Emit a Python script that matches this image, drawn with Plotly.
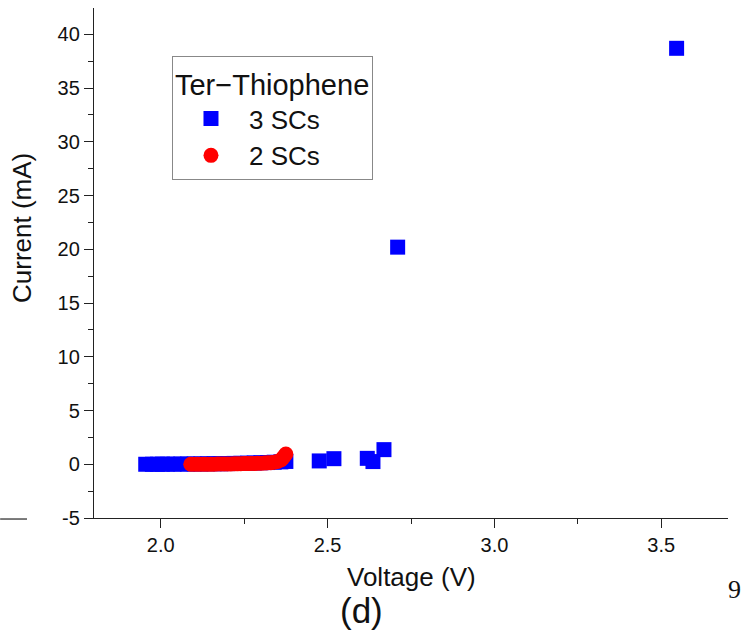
import plotly.graph_objects as go

# 3 SCs (blue squares)
v3 = [1.955, 1.975, 1.99, 2.005, 2.02, 2.04, 2.06, 2.08, 2.10, 2.12, 2.14, 2.16, 2.18,
      2.20, 2.22, 2.24, 2.26, 2.28, 2.30, 2.32, 2.34, 2.36, 2.375,
      2.475, 2.519, 2.619, 2.636, 2.669, 2.71, 3.546]
i3 = [0.00, 0.00, 0.00, 0.01, 0.01, 0.01, 0.02, 0.02, 0.03, 0.03, 0.04, 0.05, 0.05,
      0.06, 0.08, 0.09, 0.10, 0.12, 0.14, 0.16, 0.19, 0.22, 0.26,
      0.31, 0.52, 0.55, 0.25, 1.36, 20.2, 38.7]

# 2 SCs (red circles)
v2 = [2.09, 2.10, 2.11, 2.12, 2.13, 2.14, 2.15, 2.16, 2.17, 2.18, 2.19, 2.20, 2.21,
      2.22, 2.23, 2.24, 2.25, 2.26, 2.27, 2.28, 2.29, 2.30, 2.31, 2.32, 2.33, 2.34,
      2.35, 2.36, 2.365, 2.37, 2.375]
i2 = [0.00, 0.00, 0.00, 0.00, 0.01, 0.01, 0.01, 0.01, 0.02, 0.02, 0.02, 0.03, 0.03,
      0.04, 0.04, 0.05, 0.06, 0.06, 0.07, 0.08, 0.09, 0.10, 0.11, 0.13, 0.15, 0.18,
      0.25, 0.40, 0.55, 0.75, 0.95]

x_ticks = [2.0, 2.5, 3.0, 3.5]
y_ticks = [-5, 0, 5, 10, 15, 20, 25, 30, 35, 40]

FONT = "Liberation Sans, Arial, sans-serif"

fig = go.Figure()
fig.add_trace(go.Scatter(x=v3, y=i3, mode="markers", name="3 SCs",
                         marker=dict(symbol="square", size=15, color="#0000FF",
                                     line=dict(width=0))))
fig.add_trace(go.Scatter(x=v2, y=i2, mode="markers", name="2 SCs",
                         marker=dict(symbol="circle", size=15, color="#FF0000",
                                     line=dict(width=0))))

axis_common = dict(showline=True, linecolor="#222", linewidth=1.3, showgrid=False,
                   zeroline=False, ticks="outside", ticklen=9, tickwidth=1.3,
                   tickcolor="#222", tickfont=dict(family=FONT, size=20, color="#111"))

fig.update_xaxes(range=[1.8, 3.7], tickvals=x_ticks, ticktext=[f"{t:.1f}" for t in x_ticks],
                 minor=dict(dtick=0.25, tick0=0, ticks="outside", ticklen=5,
                            tickwidth=1.3, tickcolor="#222"),
                 **axis_common)
fig.update_yaxes(range=[-5, 42.45], tickvals=y_ticks, ticktext=[str(t) for t in y_ticks],
                 minor=dict(dtick=2.5, tick0=0, ticks="outside", ticklen=5,
                            tickwidth=1.3, tickcolor="#222"),
                 **axis_common)

fig.update_layout(
    width=741, height=631,
    margin=dict(l=94, r=13, t=8, b=113),
    paper_bgcolor="white", plot_bgcolor="white",
    font=dict(family=FONT, color="#111"),
    showlegend=True,
    legend=dict(x=0.123, y=0.905, xanchor="left", yanchor="top",
                bordercolor="#888", borderwidth=1, bgcolor="white",
                font=dict(family=FONT, size=26, color="#111"),
                title=dict(text="Ter\u2212Thiophene", font=dict(family=FONT, size=29, color="#111")),
                itemwidth=66, tracegroupgap=0),
    annotations=[
        dict(text="Voltage (V)", xref="paper", yref="paper", x=0.5, y=-0.1157,
             xanchor="center", yanchor="middle", showarrow=False,
             font=dict(family=FONT, size=26, color="#111")),
        dict(text="Current (mA)", xref="paper", yref="paper", x=-0.1136, y=0.5686,
             xanchor="center", yanchor="middle", showarrow=False, textangle=-90,
             font=dict(family=FONT, size=26, color="#111")),
        dict(text="(d)", xref="paper", yref="paper", x=0.4227, y=-0.1804,
             xanchor="center", yanchor="middle", showarrow=False,
             font=dict(family=FONT, size=35, color="#111")),
        dict(text="9", xref="paper", yref="paper", x=0.9975, y=-0.14,
             xanchor="left", yanchor="middle", showarrow=False,
             font=dict(family="Liberation Serif, serif", size=26, color="#111")),
    ],
    shapes=[
        dict(type="line", xref="paper", yref="paper", x0=-0.148, x1=-0.1057,
             y0=-0.002, y1=-0.002, line=dict(color="#333", width=1.3)),
    ],
)

fig.write_html("out.html")
